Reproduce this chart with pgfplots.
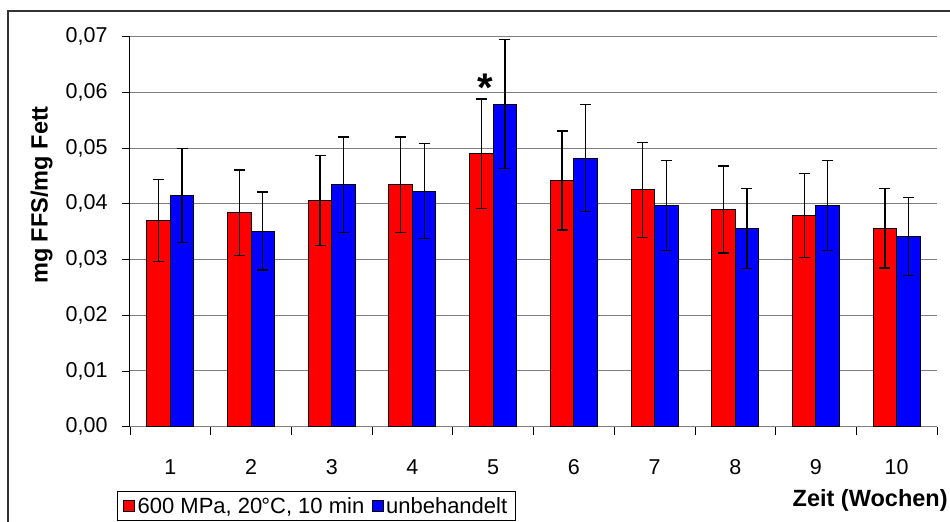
\documentclass[border=0pt]{standalone}
\usepackage{pgfplots}
\pgfplotsset{compat=1.18}
\usepackage{fontspec}
\setmainfont{Liberation Sans}
\definecolor{barred}{HTML}{FF0000}
\definecolor{barblue}{HTML}{0000FF}
\definecolor{gridgray}{HTML}{808080}
\begin{document}
\begin{tikzpicture}[font=\fontsize{21.5bp}{25bp}\selectfont]
\begin{axis}[
  at={(0,0)}, anchor=south west,
  scale only axis,
  width=807bp, height=390bp,
  xmin=0.5, xmax=10.5,
  ymin=0, ymax=0.07,
  axis x line*=bottom, axis y line*=left,
  axis line style={-},
  x axis line style={gridgray, line width=1bp},
  y axis line style={black, line width=1bp},
  xtick={1,2,3,4,5,6,7,8,9,10},
  xticklabels={1,2,3,4,5,6,7,8,9,10},
  minor xtick={0.5,1.5,2.5,3.5,4.5,5.5,6.5,7.5,8.5,9.5,10.5},
  major x tick style={draw=none},
  minor x tick style={black, line width=0.8bp},
  minor tick length=8bp,
  ytick={0,0.01,0.02,0.03,0.04,0.05,0.06,0.07},
  major tick length=8bp,
  tick align=outside,
  y tick style={black, line width=0.8bp},
  ymajorgrids,
  major grid style={gridgray, line width=1bp},
  yticklabel style={/pgf/number format/fixed, /pgf/number format/fixed zerofill, /pgf/number format/precision=2, /pgf/number format/use comma, /pgf/number format/assume math mode=true, xshift=-11bp},
  xticklabel style={yshift=-21bp},
  scaled y ticks=false,
  ylabel={mg FFS/mg Fett},
  ylabel style={font=\fontsize{23.5bp}{27bp}\selectfont\bfseries, at={(axis description cs:-0.1094,0.594)}, anchor=center},
  xlabel={Zeit (Wochen)},
  xlabel style={font=\fontsize{23.5bp}{27bp}\selectfont\bfseries, at={(axis description cs:1.0175,-0.188)}, anchor=east},
  ybar=0pt,
  bar width=0.291,
  legend columns=2,
  legend style={at={(axis description cs:-0.0161,-0.1649)}, anchor=north west, draw=black, line width=0.8bp,
    inner xsep=6bp, inner ysep=4bp,
    nodes={inner xsep=2.5bp},
    /tikz/every even column/.append style={column sep=5bp},
    font=\fontsize{22bp}{26bp}\selectfont},
  legend image code/.code={\draw[#1, draw=black, line width=0.8bp] (0bp,-5.5bp) rectangle (11bp,5.5bp);},
  error bars/y dir=both,
  error bars/y explicit,
  error bars/error bar style={black, line width=1.3bp},
  error bars/error mark options={black, rotate=90, mark size=5.5bp, line width=1.3bp},
]
\addplot[fill=barred, draw=black, line width=1bp] coordinates {
 (1,0.0370) +- (0,0.0074)
 (2,0.0384) +- (0,0.0077)
 (3,0.0406) +- (0,0.0081)
 (4,0.0434) +- (0,0.0086)
 (5,0.0490) +- (0,0.0098)
 (6,0.0442) +- (0,0.0089)
 (7,0.0425) +- (0,0.0085)
 (8,0.0390) +- (0,0.0078)
 (9,0.0379) +- (0,0.0075)
 (10,0.0356) +- (0,0.0071)
};
\addlegendentry{600 MPa, 20\kern-0.05em°C, 10 min}
\addplot[fill=barblue, draw=black, line width=1bp] coordinates {
 (1,0.0415) +- (0,0.0084)
 (2,0.0351) +- (0,0.0070)
 (3,0.0434) +- (0,0.0086)
 (4,0.0423) +- (0,0.0085)
 (5,0.0579) +- (0,0.0116)
 (6,0.0482) +- (0,0.0096)
 (7,0.0397) +- (0,0.0081)
 (8,0.0356) +- (0,0.0072)
 (9,0.0397) +- (0,0.0081)
 (10,0.0342) +- (0,0.0070)
};
\addlegendentry{unbehandelt\hspace{16bp}}
\node[font=\fontsize{40bp}{40bp}\selectfont\bfseries, inner sep=0pt, anchor=center] at (axis cs:4.899,0.0609) {*};
\end{axis}
\pgfresetboundingbox
\useasboundingbox (-130bp,-95.3bp) rectangle (820bp,426.7bp);
\draw[black!80, line width=1.5bp] (-122bp,-140bp) -- (-122bp,415.7bp) -- (860bp,415.7bp);
\end{tikzpicture}
\end{document}
